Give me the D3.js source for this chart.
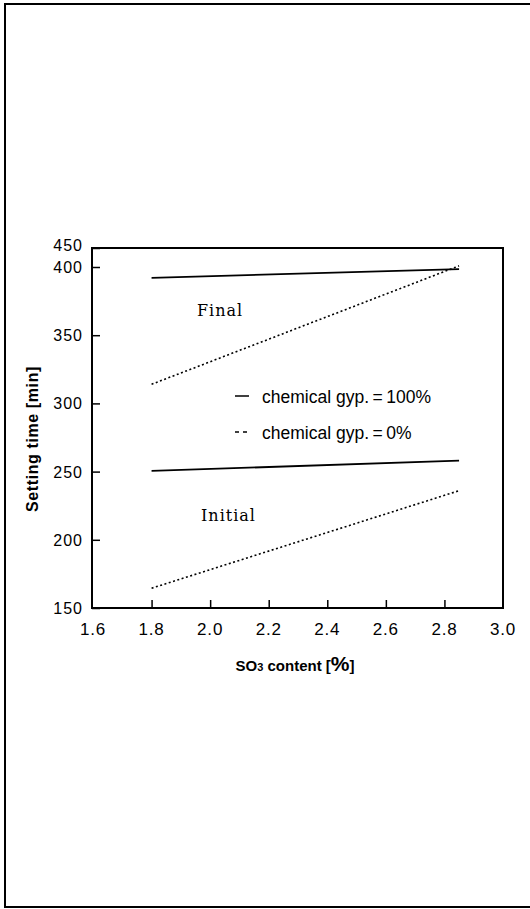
<!DOCTYPE html>
<html>
<head>
<meta charset="utf-8">
<script src="https://cdn.jsdelivr.net/npm/d3@7"></script>
<style>
  body { margin: 0; background: #fff; }
  svg { display: block; }
</style>
</head>
<body>
<div id="chart"></div>
<script>
// values
var so3 = [1.8, 2.85];
var finalGyp100 = [392, 398.5];
var finalGyp0 = [314, 403];
var initialGyp100 = [250.5, 258];
var initialGyp0 = [164.5, 236];
var xTicks = [1.6, 1.8, 2.0, 2.2, 2.4, 2.6, 2.8, 3.0];
var yTicks = [150, 200, 250, 300, 350, 400, 450];
var legendLabels = ["chemical gyp.\u2009=\u2009100%", "chemical gyp.\u2009=\u20090%"];

var W = 530, H = 909;
var svg = d3.select("#chart").append("svg")
    .attr("width", W)
    .attr("height", H);

// outer frame of the scanned page
svg.append("rect")
    .attr("x", 5).attr("y", 4)
    .attr("width", 530).attr("height", 903)
    .attr("fill", "none")
    .attr("stroke", "#000")
    .attr("stroke-width", 2);

// scales (top of the box is squeezed in the original, hence 3-stop y)
var x = d3.scaleLinear().domain([1.6, 3.0]).range([93, 503]);
var y = d3.scaleLinear().domain([150, 400, 450]).range([608, 267, 248]);

// plot box
svg.append("rect")
    .attr("x", 92).attr("y", y(450))
    .attr("width", 503 - 92).attr("height", y(150) - y(450))
    .attr("fill", "none")
    .attr("stroke", "#000")
    .attr("stroke-width", 2);

// y axis, ticks inward
var yAxis = svg.append("g")
    .attr("transform", "translate(92,0)")
    .call(d3.axisRight(y).tickValues(yTicks).tickSize(8).tickFormat(""));
yAxis.select(".domain").remove();
yAxis.selectAll("line").attr("stroke-width", 1.5);

svg.selectAll(".ylab")
  .data(yTicks)
  .enter().append("text")
    .attr("class", "ylab")
    .attr("x", 83)
    .attr("y", function(d){ return y(d) + (d === 450 ? 3 : 6); })
    .attr("text-anchor", "end")
    .attr("font-family", "Liberation Sans, Arial, sans-serif")
    .attr("font-size", 16)
    .attr("letter-spacing", 1)
    .text(function(d){ return d; });

// x axis, ticks upward
var xAxis = svg.append("g")
    .attr("transform", "translate(0,608)")
    .call(d3.axisTop(x).tickValues(xTicks.slice(1, -1)).tickSize(8).tickFormat(""));
xAxis.select(".domain").remove();
xAxis.selectAll("line").attr("stroke-width", 1.5);

svg.selectAll(".xlab")
  .data(xTicks)
  .enter().append("text")
    .attr("class", "xlab")
    .attr("x", function(d){ return x(d); })
    .attr("y", 635)
    .attr("text-anchor", "middle")
    .attr("font-family", "Liberation Sans, Arial, sans-serif")
    .attr("font-size", 17)
    .attr("letter-spacing", 0.8)
    .text(function(d){ return d.toFixed(1); });

// series
var line = d3.line()
    .x(function(d){ return x(d[0]); })
    .y(function(d){ return y(d[1]); });

function drawSeries(vals, dotted) {
  svg.append("path")
    .datum(d3.zip(so3, vals))
    .attr("fill", "none")
    .attr("stroke", "#000")
    .attr("stroke-width", dotted ? 1.6 : 1.8)
    .attr("stroke-dasharray", dotted ? "2,2.5" : null)
    .attr("d", line);
}
drawSeries(finalGyp100, false);
drawSeries(finalGyp0, true);
drawSeries(initialGyp100, false);
drawSeries(initialGyp0, true);

// group labels
svg.append("text")
    .attr("x", 197).attr("y", 316)
    .attr("font-family", "DejaVu Serif, serif")
    .attr("font-size", 16)
    .attr("letter-spacing", 1)
    .text("Final");
svg.append("text")
    .attr("x", 201).attr("y", 521)
    .attr("font-family", "DejaVu Serif, serif")
    .attr("font-size", 16)
    .attr("letter-spacing", 1)
    .text("Initial");

// legend
var legend = svg.append("g");
legendLabels.forEach(function(t, i) {
  var ly = 396 + i * 36;
  legend.append("line")
    .attr("x1", 235).attr("x2", 249)
    .attr("y1", ly).attr("y2", ly)
    .attr("stroke", "#000")
    .attr("stroke-width", 1.5)
    .attr("stroke-dasharray", i === 0 ? null : "4,4");
  legend.append("text")
    .attr("x", 262).attr("y", ly + 7)
    .attr("font-family", "Liberation Sans, Arial, sans-serif")
    .attr("font-size", 17.5)
    .text(t);
});

// axis titles
svg.append("text")
    .attr("transform", "translate(38,439) rotate(-90)")
    .attr("text-anchor", "middle")
    .attr("font-family", "Liberation Sans, Arial, sans-serif")
    .attr("font-weight", "bold")
    .attr("font-size", 16)
    .attr("letter-spacing", 0.6)
    .text("Setting time [min]");

var xt = svg.append("text")
    .attr("x", 295).attr("y", 671)
    .attr("text-anchor", "middle")
    .attr("font-family", "Liberation Sans, Arial, sans-serif")
    .attr("font-weight", "bold")
    .attr("font-size", 15);
xt.append("tspan").text("SO");
xt.append("tspan").attr("font-size", 11).text("3");
xt.append("tspan").text(" content [");
xt.append("tspan").attr("font-size", 21).text("%");
xt.append("tspan").text("]");
</script>
</body>
</html>
